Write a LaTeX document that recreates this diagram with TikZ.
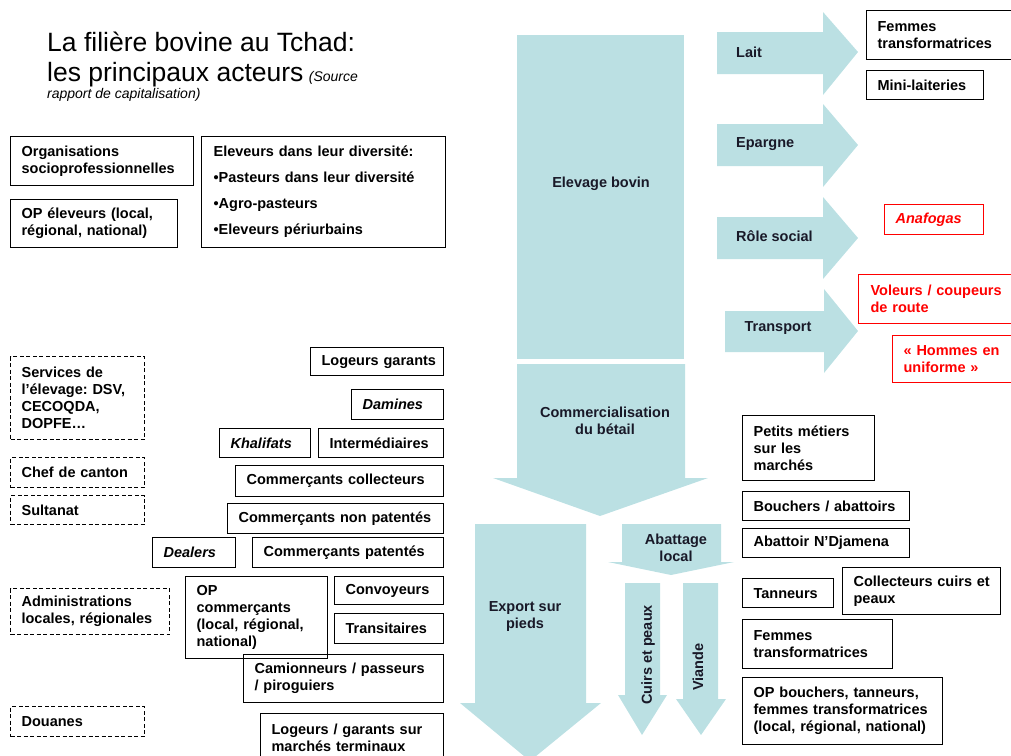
\documentclass[tikz,border=0pt]{standalone}
\usepackage{fontspec}
\setmainfont{Liberation Sans}
\frenchspacing
\definecolor{flowteal}{RGB}{187,224,227}
\definecolor{lbltext}{RGB}{25,25,40}

\begin{document}
\begin{tikzpicture}[
    x=1pt, y=-1pt,
    font=\fontsize{14.5}{17}\selectfont\bfseries,
    % Actor boxes: anchored by their top-left corner, 11pt left text margin
    box/.style={draw=black, line width=1.2pt, anchor=north west, align=left, inner xsep=11pt, inner ysep=0pt},
    dbox/.style={box, dash pattern=on 4pt off 2.5pt},
    rbox/.style={box, draw=red, text=red},
    sz/.style 2 args={minimum width=#1pt, minimum height=#2pt, text width=#1pt-22pt},
    % Block arrows of the flow
    blk/.style={fill=flowteal},
    blk_lbl/.style={text=lbltext, align=center, inner sep=0pt},
    head/.style={font=\fontsize{26.5}{30}\selectfont\mdseries, anchor=base west, inner sep=0pt},
    src/.style={font=\fontsize{14}{16}\selectfont\mdseries\itshape, anchor=base west, inner sep=0pt}
  ]

  % Bounding box locked to the 1011 x 755 frame
  \useasboundingbox (0,0) rectangle (1011,755);

  % ---------------------------------------------------------
  % TITLE
  % ---------------------------------------------------------
  \node[head] (title1) at (47,51) {La filière bovine au Tchad:};
  \node[head] (title2) at (47,81) {les principaux acteurs};
  \node[src] (source1) at ([xshift=5pt]title2.base east) {(Source};
  \node[src] (source2) at (47,98) {rapport de capitalisation)};

  % ---------------------------------------------------------
  % BLOCK ARROWS: MAIN FLOW (X = 460 to 734)
  % ---------------------------------------------------------
  \fill[blk] (517,35) rectangle (684,359);
  \node[blk_lbl] (elevage) at (601,184) {Elevage bovin};

  \fill[blk] (517,364) -- (685,364) -- (685,478) -- (708,478) -- (600,516)
    -- (493,478) -- (517,478) -- cycle;
  \node[blk_lbl] (comm) at (605,421) {Commercialisation\\du bétail};

  \fill[blk] (475,524) -- (586,524) -- (586,703) -- (601,703) -- (530,761)
    -- (460,703) -- (475,703) -- cycle;
  \node[blk_lbl] (export) at (525,617) {Export sur\\pieds};

  \fill[blk] (622,524) -- (721,524) -- (721,562) -- (734,562) -- (671,575)
    -- (608,562) -- (622,562) -- cycle;
  \node[blk_lbl] (abattage) at (676,548) {Abattage\\local};

  \fill[blk] (625,583) -- (660,583) -- (660,695) -- (667,695) -- (642,735)
    -- (618,695) -- (625,695) -- cycle;
  \node[blk_lbl, rotate=90] (cuirs) at (648,655) {Cuirs et peaux};

  \fill[blk] (683,583) -- (718,583) -- (718,699) -- (726,699) -- (701,735)
    -- (676,699) -- (683,699) -- cycle;
  \node[blk_lbl, rotate=90] (viande) at (698,667) {Viande};

  % ---------------------------------------------------------
  % BLOCK ARROWS: USES OF THE HERD (tip at X = 858)
  % ---------------------------------------------------------
  \fill[blk] (717,32) -- (823,32) -- (823,12) -- (858,52) -- (823,95) -- (823,74) -- (717,74) -- cycle;
  \node[blk_lbl, anchor=west] (lait) at (736,52) {Lait};

  \fill[blk] (717,124) -- (823,124) -- (823,104) -- (858,145) -- (823,187) -- (823,166) -- (717,166) -- cycle;
  \node[blk_lbl, anchor=west] (epargne) at (736,144) {Epargne};

  \fill[blk] (717,217) -- (823,217) -- (823,197) -- (858,238) -- (823,279) -- (823,259) -- (717,259) -- cycle;
  \node[blk_lbl, anchor=west] (social) at (736,236) {Rôle social};

  \fill[blk] (725,311) -- (824,311) -- (824,289) -- (858,331) -- (824,373) -- (824,352) -- (725,352) -- cycle;
  \node[blk_lbl] (transport) at (778,328) {Transport};

  % ---------------------------------------------------------
  % PRODUCERS (top left)
  % ---------------------------------------------------------
  \node[box, sz={183}{49}] (orgs) at (10,136) {Organisations\\socioprofessionnelles};
  \node[box, sz={167}{48}] (opelev) at (10,199) {OP éleveurs (local,\\régional, national)};
  \node[box, sz={242}{111}, inner xsep=12pt] (eleveurs) at (201,136)
    {Eleveurs dans leur diversité:\\[9pt]•Pasteurs dans leur diversité\\[9pt]•Agro-pasteurs\\[9pt]•Eleveurs périurbains};

  % ---------------------------------------------------------
  % INSTITUTIONS (dashed, left column)
  % ---------------------------------------------------------
  \node[dbox, sz={134}{83}] (services) at (10,356) {Services de\\l’élevage: DSV,\\CECOQDA,\\DOPFE…};
  \node[dbox, sz={134}{30}] (canton) at (10,457) {Chef de canton};
  \node[dbox, sz={134}{29}] (sultanat) at (10,495) {Sultanat};
  \node[dbox, sz={159}{46}] (admin) at (10,588) {Administrations\\locales, régionales};
  \node[dbox, sz={134}{30}] (douanes) at (10,706) {Douanes};

  % ---------------------------------------------------------
  % TRADE ACTORS (right aligned at X = 443)
  % ---------------------------------------------------------
  \node[box, sz={133}{28}] (logeurs) at (310,347) {Logeurs~garants};
  \node[box, sz={92}{30}] (damines) at (351,389) {\itshape Damines};
  \node[box, sz={91}{29}] (khalifats) at (219,428) {\itshape Khalifats};
  \node[box, sz={125}{29}] (interm) at (318,428) {Intermédiaires};
  \node[box, sz={208}{31}] (collect) at (235,465) {Commerçants collecteurs};
  \node[box, sz={216}{30}] (nonpat) at (227,503) {Commerçants~non~patentés};
  \node[box, sz={83}{30}] (dealers) at (152,537) {\itshape Dealers};
  \node[box, sz={191}{30}] (patent) at (252,537) {Commerçants patentés};
  \node[box, sz={142}{82}] (opcomm) at (185,576) {OP\\commerçants\\(local, régional,\\national)};
  \node[box, sz={109}{28}] (convoy) at (334,576) {Convoyeurs};
  \node[box, sz={109}{30}] (transit) at (334,613) {Transitaires};
  \node[box, sz={200}{48}] (camion) at (243,654) {Camionneurs / passeurs\\/ piroguiers};
  \node[box, sz={183}{48}] (logterm) at (260,713) {Logeurs / garants sur\\marchés terminaux};

  % ---------------------------------------------------------
  % MILK AND SOCIAL SIDE (right)
  % ---------------------------------------------------------
  \node[box, sz={150}{49}] (femmes1) at (866,10) {Femmes\\transformatrices};
  \node[box, sz={117}{29}] (minilait) at (866,70) {Mini-laiteries};
  \node[rbox, sz={99}{30}] (anafogas) at (884,204) {\itshape Anafogas};
  \node[rbox, sz={160}{49}, inner xsep=12pt] (voleurs) at (858,274) {Voleurs~/~coupeurs\\de route};
  \node[rbox, sz={130}{47}] (uniforme) at (892,335) {«~Hommes en\\uniforme~»};

  % ---------------------------------------------------------
  % SLAUGHTER AND PROCESSING (right, X = 742)
  % ---------------------------------------------------------
  \node[box, sz={132}{65}] (petits) at (742,415) {Petits métiers\\sur les\\marchés};
  \node[box, sz={167}{29}] (bouchers) at (742,491) {Bouchers / abattoirs};
  \node[box, sz={167}{29}] (abatndj) at (742,528) {Abattoir N’Djamena};
  \node[box, sz={91}{29}] (tanneurs) at (742,578) {Tanneurs};
  \node[box, sz={158}{47}] (cuirscoll) at (842,567) {Collecteurs~cuirs~et\\peaux};
  \node[box, sz={150}{49}] (femmes2) at (742,619) {Femmes\\transformatrices};
  \node[box, sz={200}{67}] (opbouch) at (742,677) {OP bouchers, tanneurs,\\femmes transformatrices\\(local, régional, national)};

\end{tikzpicture}
\end{document}
